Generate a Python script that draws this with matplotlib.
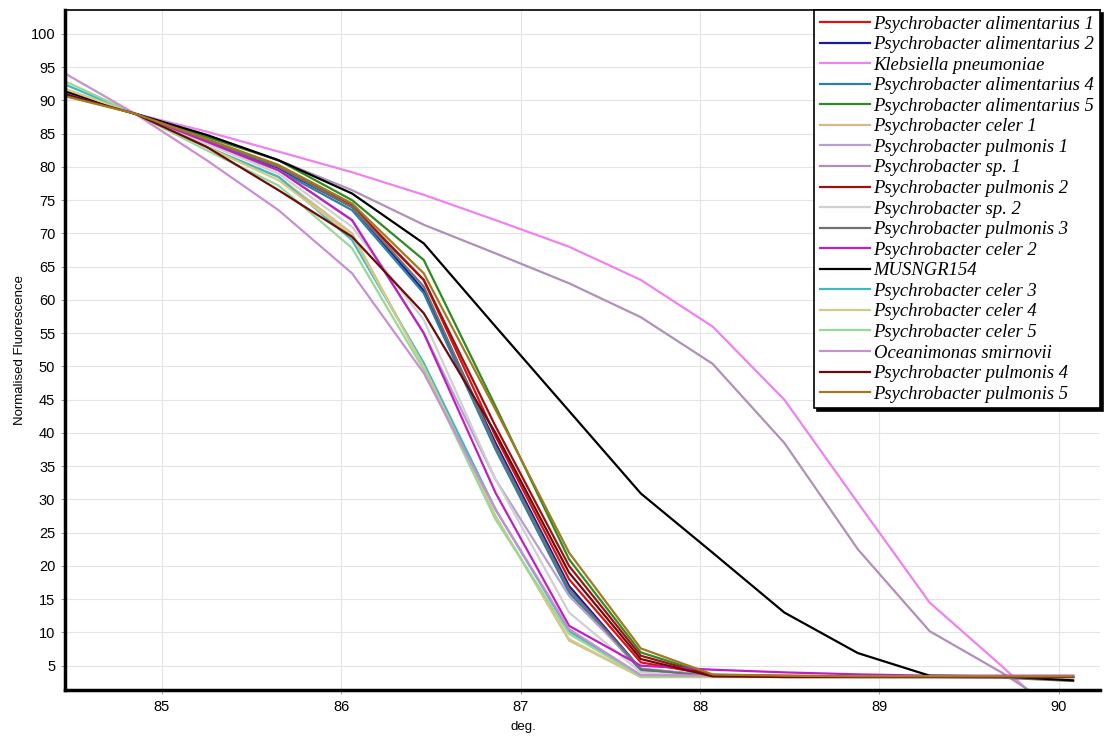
import matplotlib
matplotlib.use("Agg")
import matplotlib.pyplot as plt

# melt-curve temperature nodes (deg.)
temps = [84.45, 84.85, 85.25, 85.65, 86.06, 86.46, 86.86, 87.27,
         87.67, 88.07, 88.47, 88.88, 89.28, 89.68, 90.08]

names = [
    "Psychrobacter alimentarius 1",
    "Psychrobacter alimentarius 2",
    "Klebsiella pneumoniae",
    "Psychrobacter alimentarius 4",
    "Psychrobacter alimentarius 5",
    "Psychrobacter celer 1",
    "Psychrobacter pulmonis 1",
    "Psychrobacter sp. 1",
    "Psychrobacter pulmonis 2",
    "Psychrobacter sp. 2",
    "Psychrobacter pulmonis 3",
    "Psychrobacter celer 2",
    "MUSNGR154",
    "Psychrobacter celer 3",
    "Psychrobacter celer 4",
    "Psychrobacter celer 5",
    "Oceanimonas smirnovii",
    "Psychrobacter pulmonis 4",
    "Psychrobacter pulmonis 5",
]

alim1 = [91.3, 88.0, 84.0, 80.0, 74.2, 63.0, 39.5, 18.0, 5.5, 3.6, 3.5, 3.4, 3.4, 3.4, 3.4]
alim2 = [91.2, 88.0, 84.0, 79.8, 74.0, 61.4, 38.5, 17.0, 4.5, 3.5, 3.4, 3.4, 3.4, 3.4, 3.4]
kleb = [91.5, 88.0, 85.3, 82.3, 79.2, 75.8, 72.0, 68.0, 63.0, 56.0, 45.0, 29.5, 14.5, 5.0, -5.0]
alim4 = [91.5, 88.0, 83.8, 79.5, 73.5, 61.0, 37.5, 16.0, 4.3, 3.5, 3.4, 3.4, 3.4, 3.4, 3.4]
alim5 = [91.4, 88.0, 84.5, 81.0, 75.0, 66.0, 44.0, 21.0, 7.0, 3.6, 3.4, 3.4, 3.4, 3.4, 3.4]
celer1 = [91.8, 88.0, 83.0, 78.5, 70.0, 50.0, 27.5, 8.8, 3.3, 3.3, 3.3, 3.3, 3.3, 3.3, 3.3]
pulm1 = [91.5, 88.0, 83.5, 79.5, 72.0, 55.0, 33.0, 15.5, 4.6, 3.5, 3.4, 3.4, 3.4, 3.4, 3.4]
sp1 = [91.5, 88.0, 84.8, 81.0, 76.5, 71.3, 67.0, 62.5, 57.4, 50.4, 38.5, 22.5, 10.2, 4.0, -3.0]
pulm2 = [91.0, 88.0, 84.0, 80.0, 74.0, 63.0, 41.0, 20.0, 6.5, 3.5, 3.3, 3.3, 3.3, 3.3, 3.3]
sp2 = [91.6, 88.0, 83.5, 79.0, 71.0, 57.0, 33.0, 13.0, 4.0, 3.4, 3.4, 3.4, 3.4, 3.4, 3.4]
pulm3 = [91.3, 88.0, 84.0, 80.0, 74.0, 62.0, 38.0, 16.5, 4.5, 3.4, 3.4, 3.3, 3.3, 3.2, 2.7]
celer2 = [91.5, 88.0, 83.8, 79.5, 72.0, 55.0, 31.0, 11.0, 5.0, 4.4, 4.0, 3.7, 3.5, 3.5, 3.5]
musngr = [91.5, 88.0, 84.8, 81.0, 76.0, 68.5, 56.0, 43.3, 30.9, 22.0, 13.0, 6.9, 3.5, 3.4, 2.8]
celer3 = [92.5, 88.0, 83.0, 78.5, 69.0, 50.5, 28.5, 10.2, 3.5, 3.4, 3.4, 3.4, 3.4, 3.4, 3.4]
celer4 = [91.8, 88.0, 83.0, 78.0, 69.7, 50.0, 27.5, 9.0, 3.3, 3.3, 3.3, 3.3, 3.3, 3.3, 3.3]
celer5 = [93.0, 88.0, 82.5, 77.2, 67.8, 49.5, 27.0, 9.8, 3.4, 3.4, 3.4, 3.4, 3.4, 3.4, 3.4]
ocean = [94.2, 88.0, 81.0, 73.5, 64.0, 49.0, 28.5, 10.5, 3.6, 3.5, 3.4, 3.4, 3.4, 3.4, 3.4]
pulm4 = [91.0, 88.0, 83.0, 76.5, 69.5, 58.0, 40.0, 19.0, 6.0, 3.4, 3.3, 3.3, 3.3, 3.3, 3.3]
pulm5 = [90.7, 88.0, 84.2, 80.3, 74.5, 64.0, 43.5, 22.0, 7.6, 3.7, 3.5, 3.4, 3.4, 3.4, 3.4]

series = [alim1, alim2, kleb, alim4, alim5, celer1, pulm1, sp1, pulm2, sp2,
          pulm3, celer2, musngr, celer3, celer4, celer5, ocean, pulm4, pulm5]

colors = ['#dd1111', '#1a1a9a', '#ee82ee', '#2b80a8', '#2e8b22', '#d8b88a',
          '#b7a0d0', '#b090b8', '#a01010', '#d0d0d0', '#707070', '#c020c0',
          '#000000', '#40b8c0', '#d0cc88', '#98d898', '#c890d0', '#700a0a',
          '#a07a20']

fig = plt.figure(figsize=(11.04, 7.36), dpi=100)
ax = fig.add_axes([0.0589, 0.0625, 0.9375, 0.924])

for name, vals, c in zip(names, series, colors):
    ax.plot(temps, vals, color=c, lw=1.6, label=name)

ax.set_xlim(84.46, 90.23)
ax.set_ylim(1.35, 103.6)
ax.set_xticks([85, 86, 87, 88, 89, 90])
ax.set_yticks(range(5, 101, 5))
ax.grid(True, color='#e4e4e4', lw=0.8)
ax.set_axisbelow(True)

for lab in ax.get_xticklabels() + ax.get_yticklabels():
    lab.set_fontfamily('Liberation Sans')
    lab.set_fontsize(10.5)
ax.tick_params(length=3, width=0.6, color='#888888', pad=4)

ax.spines['left'].set_linewidth(2.5)
ax.spines['bottom'].set_linewidth(2.5)
ax.spines['top'].set_linewidth(1.2)
ax.spines['right'].set_visible(False)

ax.set_ylabel('Normalised Fluorescence', fontfamily='Liberation Sans', fontsize=9.5)
ax.yaxis.set_label_coords(-0.038, 0.5)
ax.set_xlabel('deg.', fontfamily='Liberation Sans', fontsize=9.5)
ax.xaxis.set_label_coords(0.443, -0.045)

# legend in the corner, serif italic, hard black drop shadow
leg = ax.legend(loc='upper right', bbox_to_anchor=(1.0, 1.0), borderaxespad=0,
                fancybox=False, framealpha=1, edgecolor='black',
                shadow={'color': 'black', 'alpha': 1.0},
                prop={'family': 'Liberation Serif', 'style': 'italic', 'size': 13.4},
                handlelength=2.7, handletextpad=0.2, labelspacing=0.19,
                borderpad=0.3)
leg.get_frame().set_linewidth(1.2)

fig.savefig('out.png', dpi=100)
